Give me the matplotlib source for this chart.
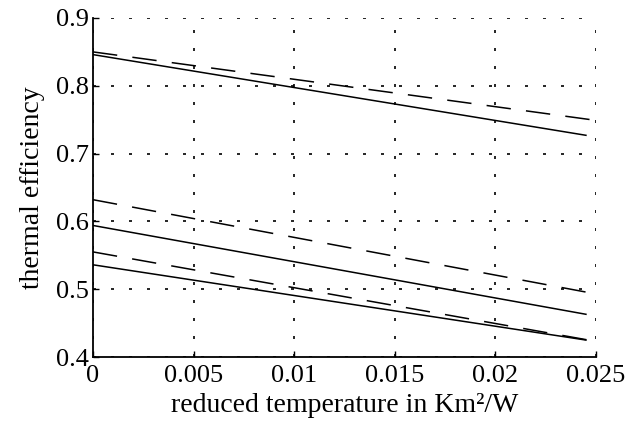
import matplotlib
matplotlib.use("Agg")
import matplotlib.pyplot as plt

plt.rcParams['font.family'] = ['Liberation Serif', 'DejaVu Serif']

# reduced temperature (Km^2/W)
x_dashed = [0.0, 0.025]
x_solid = [0.0, 0.0245]

# thermal efficiency curves (start, end)
dashed_top = [0.850, 0.749]
solid_top = [0.846, 0.727]
dashed_mid = [0.632, 0.493]
solid_mid = [0.594, 0.463]
dashed_low = [0.555, 0.423]
solid_low = [0.536, 0.425]

xticks = [0, 0.005, 0.01, 0.015, 0.02, 0.025]
xticklabels = ['0', '0.005', '0.01', '0.015', '0.02', '0.025']
yticks = [0.4, 0.5, 0.6, 0.7, 0.8, 0.9]
yticklabels = ['0.4', '0.5', '0.6', '0.7', '0.8', '0.9']

fig = plt.figure(figsize=(6.31, 4.23), dpi=100)
ax = fig.add_axes([93/631, 1-357/423, (596-93)/631, (357-18)/423])

for yd in (dashed_top, dashed_mid, dashed_low):
    ax.plot(x_dashed, yd, color='black', lw=1.1, dashes=(16, 10))
for ys in (solid_top, solid_mid, solid_low):
    ax.plot(x_solid, ys, color='black', lw=1.1)

ax.set_xlim(0, 0.025)
ax.set_ylim(0.4, 0.9)
ax.set_xticks(xticks)
ax.set_xticklabels(xticklabels)
ax.set_yticks(yticks)
ax.set_yticklabels(yticklabels)
ax.grid(True, color='black', lw=1.2, dashes=(1.8, 9))
ax.set_axisbelow(True)
for s in ('top', 'right'):
    ax.spines[s].set_visible(False)
for s in ('left', 'bottom'):
    ax.spines[s].set_linewidth(1.3)
ax.tick_params(direction='in', length=4, width=1, labelsize=19)
ax.tick_params(axis='x', pad=6)
ax.tick_params(axis='y', pad=3)

ax.set_xlabel('reduced temperature in Km²/W', fontsize=20)
ax.xaxis.set_label_coords(0.5, -0.105)
ax.set_ylabel('thermal efficiency', fontsize=20, labelpad=8)

fig.savefig('out.png', dpi=100)
